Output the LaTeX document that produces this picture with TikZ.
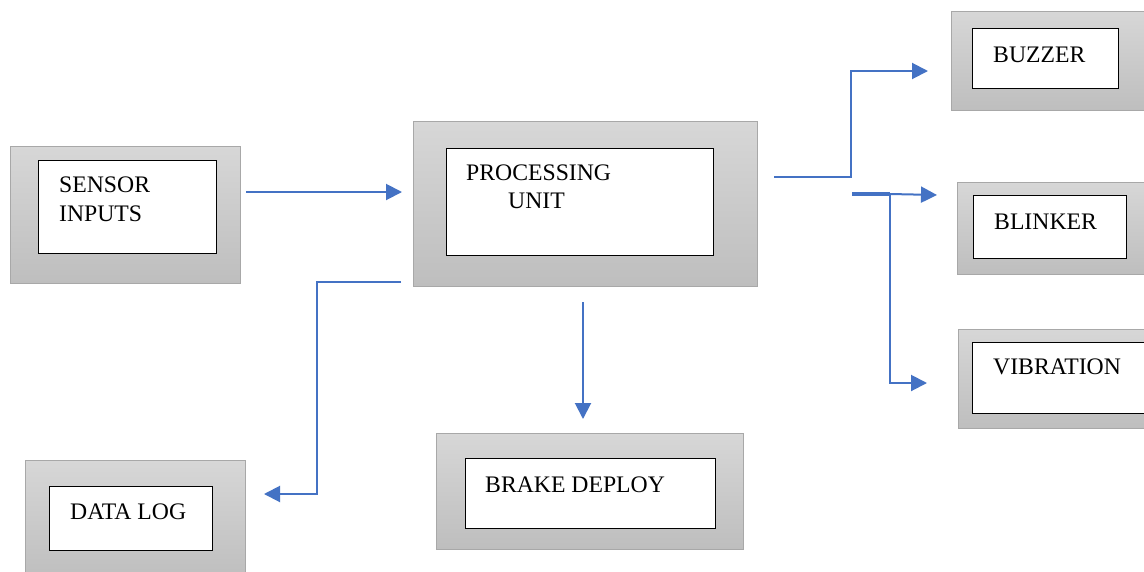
\documentclass[tikz,border=0pt]{standalone}
\usepackage{fontspec}
\setmainfont{Liberation Serif}
\usetikzlibrary{arrows.meta}
\definecolor{boxtop}{HTML}{D7D7D7}
\definecolor{boxbot}{HTML}{BEBEBE}
\definecolor{boxedge}{HTML}{A8A8A8}
\definecolor{arrblue}{HTML}{4472C4}
\tikzset{
  outerbox/.style={rectangle, draw=boxedge, line width=1pt, top color=boxtop, bottom color=boxbot, inner sep=0pt},
  innerbox/.style={rectangle, draw=black, line width=1pt, fill=white, inner sep=0pt},
  label/.style={anchor=base west, inner sep=0pt, font=\fontsize{23.7}{28}\selectfont},
  arr/.style={draw=arrblue, line width=2pt, -{Triangle[length=16pt,width=16pt]}},
  plain/.style={draw=arrblue, line width=2pt}
}
\begin{document}
\begin{tikzpicture}[x=1pt,y=-1pt]
\useasboundingbox (0,0) rectangle (1144,571);
\clip (0,0) rectangle (1144,571);
\fill[white] (0,0) rectangle (1144,571);
% Sensor inputs
\node[outerbox, minimum width=230pt, minimum height=137pt] (sensor) at (125,214.5) {};
\node[innerbox, minimum width=178pt, minimum height=93pt] (sensorI) at (127,206.5) {};
\node[label] (sensorT1) at (59,192) {SENSOR};
\node[label] (sensorT2) at (59,221) {INPUTS};
% Processing unit
\node[outerbox, minimum width=344pt, minimum height=165pt] (proc) at (585,203.5) {};
\node[innerbox, minimum width=267pt, minimum height=107pt] (procI) at (579.5,201.5) {};
\node[label] (procT1) at (466,180) {PROCESSING};
\node[label] (procT2) at (508,208) {UNIT};
% Buzzer
\node[outerbox, minimum width=194pt, minimum height=99pt] (buzzer) at (1048,60.5) {};
\node[innerbox, minimum width=146pt, minimum height=60pt] (buzzerI) at (1045,58) {};
\node[label] (buzzerT) at (993,62) {BUZZER};
% Blinker
\node[outerbox, minimum width=193pt, minimum height=92pt] (blinker) at (1053.5,228) {};
\node[innerbox, minimum width=153pt, minimum height=63pt] (blinkerI) at (1049.5,226.5) {};
\node[label] (blinkerT) at (994,229) {BLINKER};
% Vibration
\node[outerbox, minimum width=202pt, minimum height=99pt] (vib) at (1059,378.5) {};
\node[innerbox, minimum width=178pt, minimum height=71pt] (vibI) at (1061,377.5) {};
\node[label] (vibT) at (993,374) {VIBRATION};
% Data log
\node[outerbox, minimum width=220pt, minimum height=120pt] (datalog) at (135,520) {};
\node[innerbox, minimum width=163pt, minimum height=64pt] (datalogI) at (130.5,518) {};
\node[label] (datalogT) at (70,519) {DATA LOG};
% Brake deploy
\node[outerbox, minimum width=307pt, minimum height=116pt] (brake) at (589.5,491) {};
\node[innerbox, minimum width=250pt, minimum height=70pt] (brakeI) at (590,493) {};
\node[label] (brakeT) at (485,492) {BRAKE DEPLOY};
% connector ends and bends
\coordinate (s0) at (246,192);
\coordinate (s1) at (402,192);
\coordinate (b0) at (583,302);
\coordinate (b1) at (583,419);
\coordinate (d0) at (401,282);
\coordinate (d1) at (317,282);
\coordinate (d2) at (317,494);
\coordinate (d3) at (264,494);
\coordinate (z0) at (774,177);
\coordinate (z1) at (851,177);
\coordinate (z2) at (851,71);
\coordinate (z3) at (928,71);
\coordinate (l0) at (852,194);
\coordinate (l1) at (890,194);
\coordinate (l2) at (937,195);
\coordinate (v1) at (890,383);
\coordinate (v2) at (927,383);
% connectors
\draw[arr] (s0) -- (s1);
\draw[arr] (b0) -- (b1);
\draw[arr] (d0) -- (d1) -- (d2) -- (d3);
\draw[arr] (z0) -- (z1) -- (z2) -- (z3);
\draw[draw=arrblue, line width=3.5pt] (l0) -- (l1);
\draw[arr] (l1) -- (l2);
\draw[arr] (l1) -- (v1) -- (v2);
\end{tikzpicture}
\end{document}
